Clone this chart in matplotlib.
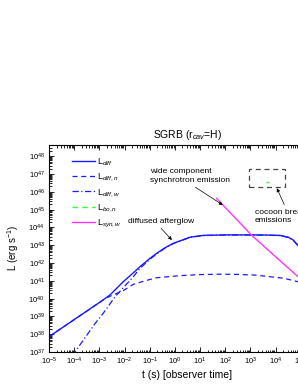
import numpy as np
import matplotlib
matplotlib.use('Agg')
from matplotlib import pyplot as plt
from matplotlib.ticker import LogLocator, NullFormatter
from matplotlib.patches import Rectangle

plt.rcParams['font.family'] = ['Liberation Sans', 'DejaVu Sans']
plt.rcParams['mathtext.fontset'] = 'custom'
plt.rcParams['mathtext.rm'] = 'Liberation Sans'
plt.rcParams['mathtext.it'] = 'Liberation Sans:italic'

# log10 t (s), log10 L (erg/s)
t_diff = [-5, -4, -3.04, -2.58, -2.05, -1.65, -1.39, -1.0, -0.73, -0.4, -0.07, 0.2, 0.6, 1.1, 2, 3, 3.7, 4.17, 4.5, 4.69, 4.88, 5.2]
L_diff = [37.86, 38.82, 39.74, 40.2, 40.95, 41.45, 41.79, 42.25, 42.54, 42.85, 43.1, 43.24, 43.45, 43.55, 43.58, 43.58, 43.57, 43.55, 43.45, 43.3, 43.0, 42.6]

t_diff_n = [-5, -4, -3.04, -2.71, -2.3, -2.05, -1.65, -1.19, -0.73, 0.2, 1, 1.79, 2.5, 3.2, 3.77, 4.3, 4.6, 4.88, 5.2]
L_diff_n = [37.86, 38.82, 39.74, 40.05, 40.3, 40.45, 40.8, 41.0, 41.17, 41.29, 41.35, 41.37, 41.36, 41.32, 41.23, 41.15, 41.05, 40.95, 40.8]

t_diff_w = [-4.1, -3.97, -3.17, -2.85, -2.38, -1.65, -1.39, -1.0, -0.73, -0.4, -0.07, 0.2, 0.6, 1.1, 2, 3, 3.7, 4.17, 4.5, 4.69, 4.88, 5.2]
L_diff_w = [36.8, 37.0, 38.6, 39.17, 40.1, 41.23, 41.7, 42.2, 42.5, 42.83, 43.09, 43.23, 43.44, 43.54, 43.57, 43.57, 43.56, 43.54, 43.44, 43.29, 42.98, 42.55]

t_bo_n = [3.6, 3.72]
L_bo_n = [46.55, 46.55]

t_syn_w = [1.655, 2.45, 3.04, 4.0, 4.89, 5.2]
L_syn_w = [45.63, 44.45, 43.57, 42.35, 41.23, 40.85]

# box around the cocoon breakout emission
box_t = [2.94, 4.37]
box_L = [46.27, 47.28]


def pw(a):
    return 10 ** np.array(a)


fig = plt.figure(figsize=(2.98, 3.85), dpi=100)
ax = fig.add_axes([49 / 298, 33 / 385, 277 / 298, 207 / 385])

blue = '#1a1aff'
ax.plot(pw(t_diff), pw(L_diff), color=blue, lw=1.0, label='L$_{diff}$')
ax.plot(pw(t_diff_n), pw(L_diff_n), color=blue, lw=0.9, ls=(0, (4, 3)), label='L$_{diff,n}$')
ax.plot(pw(t_diff_w), pw(L_diff_w), color=blue, lw=0.9, ls=(0, (5, 2, 1, 2)), label='L$_{diff,w}$')
ax.plot(pw(t_bo_n), pw(L_bo_n), color='#33ff33', lw=1.0, ls=(0, (4, 3)), label='L$_{bo,n}$')
ax.plot(pw(t_syn_w), pw(L_syn_w), color='#ff33ff', lw=1.0, label='L$_{syn,w}$')

ax.add_patch(Rectangle((10 ** box_t[0], 10 ** box_L[0]),
                       10 ** box_t[1] - 10 ** box_t[0], 10 ** box_L[1] - 10 ** box_L[0],
                       fill=False, ec='#444444', lw=0.9, ls=(0, (4, 3))))

ax.set_xscale('log')
ax.set_yscale('log')
ax.set_xlim(1e-5, 1e6)
ax.set_ylim(1e37, 10 ** 48.63)

ax.xaxis.set_major_locator(LogLocator(base=10, numticks=20))
ax.yaxis.set_major_locator(LogLocator(base=10, numticks=20))
ax.xaxis.set_minor_locator(LogLocator(base=10, subs=np.arange(2, 10), numticks=20))
ax.yaxis.set_minor_locator(LogLocator(base=10, subs=np.arange(2, 10), numticks=20))
ax.xaxis.set_minor_formatter(NullFormatter())
ax.yaxis.set_minor_formatter(NullFormatter())
ax.tick_params(which='both', direction='in', top=True, right=True, labelsize=5.5, width=0.6)
ax.tick_params(which='major', length=3.5, pad=3)
ax.tick_params(which='minor', length=1.8)
for s in ax.spines.values():
    s.set_linewidth(0.8)

ax.set_title('SGRB (r$_{cav}$=H)', fontsize=7.5, pad=5)
ax.set_xlabel('t (s) [observer time]', fontsize=7.5, labelpad=1.5)
ax.set_ylabel('L (erg s$^{-1}$)', fontsize=7, labelpad=5)

ax.legend(loc='upper left', bbox_to_anchor=(0.06, 0.975), frameon=False, fontsize=6.5,
          handlelength=2.5, handletextpad=0.3, labelspacing=0.42, borderpad=0.2)

arrow = dict(arrowstyle='-|>', color='black', lw=0.5, mutation_scale=5, shrinkA=1, shrinkB=0)
ax.annotate('wide component\nsynchrotron emission', xy=(10 ** 1.9, 10 ** 45.26), xytext=(10 ** -0.99, 10 ** 46.89),
            fontsize=6, ha='left', va='center', linespacing=1.3,
            arrowprops=dict(arrow, relpos=(0.5, 0.0)))
ax.annotate('diffused afterglow', xy=(10 ** -0.12, 10 ** 43.29), xytext=(10 ** -1.87, 10 ** 44.36),
            fontsize=6, ha='left', va='center',
            arrowprops=dict(arrow, relpos=(0.45, 0.0)))
ax.annotate('cocoon breakout\nemissions', xy=(10 ** 4.05, 10 ** 46.2), xytext=(10 ** 3.17, 10 ** 44.61),
            fontsize=6, ha='left', va='center', linespacing=1.3,
            arrowprops=dict(arrow, relpos=(0.5, 1.0)))

fig.savefig('out.png', dpi=100)
